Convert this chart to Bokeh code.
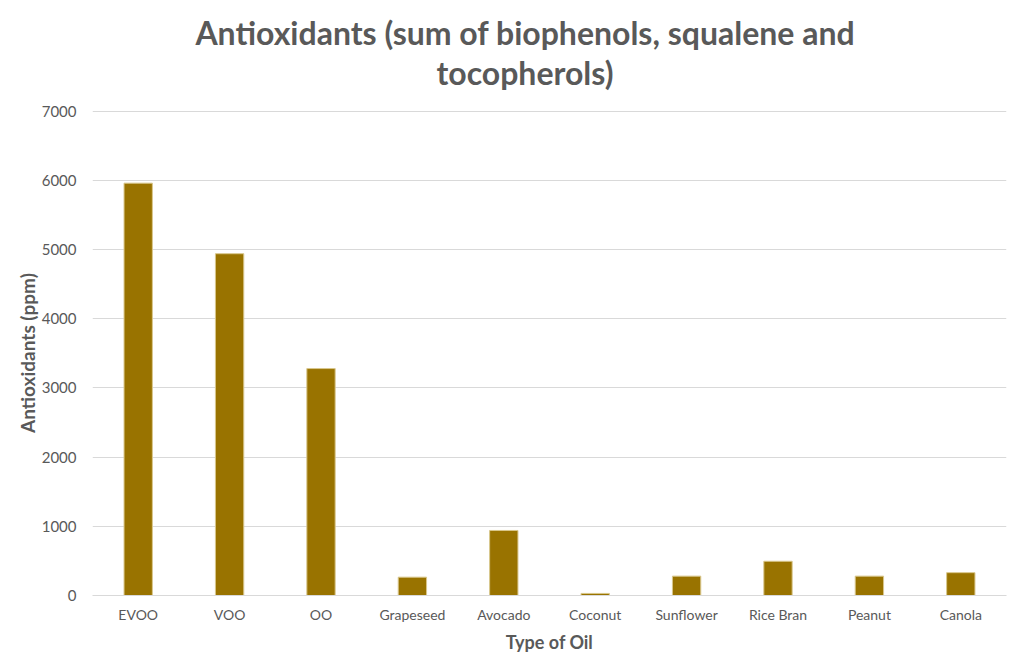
from bokeh.plotting import figure
from bokeh.models import Range1d, FixedTicker, Div
from bokeh.layouts import column
from bokeh.embed import file_html
from bokeh.resources import INLINE

oils = ["EVOO", "VOO", "OO", "Grapeseed", "Avocado", "Coconut", "Sunflower", "Rice Bran", "Peanut", "Canola"]
antioxidants = [5960, 4940, 3280, 265, 940, 30, 280, 495, 280, 330]
y_ticks = [0, 1000, 2000, 3000, 4000, 5000, 6000, 7000]
title_lines = ["Antioxidants (sum of biophenols, squalene and", "tocopherols)"]
x_title = "Type of Oil"
y_title = "Antioxidants (ppm)"

FONT = "Lato"
GREY = "#595959"
W = 1016

title_html = (
    '<div style="font-family:Lato,sans-serif;font-weight:bold;font-size:32px;'
    'color:#595959;line-height:40px;text-align:center;padding:13px 0 0 34px;'
    'box-sizing:border-box;width:%dpx;white-space:nowrap;">' % W
    + "<br>".join(title_lines) + "</div>"
)
title_div = Div(text=title_html, width=W, height=98, margin=(0, 0, 0, 0))

p = figure(x_range=oils, y_range=Range1d(0, 7010), width=W, height=563,
           output_backend="svg", toolbar_location=None,
           min_border_left=92, min_border_right=10, min_border_top=12, min_border_bottom=66)
p.title.visible = False
p.outline_line_color = None

p.vbar(x=oils, top=antioxidants, width=0.31, fill_color="#997300",
       line_color="#d9c78c", line_width=1)

p.yaxis.ticker = FixedTicker(ticks=y_ticks)
p.yaxis.axis_line_color = None
p.yaxis.major_tick_line_color = None
p.yaxis.minor_tick_line_color = None
p.yaxis.major_label_text_font = FONT
p.yaxis.major_label_text_font_size = "15px"
p.yaxis.major_label_text_color = GREY
p.yaxis.major_label_standoff = 10
p.yaxis.axis_label = y_title
p.yaxis.axis_label_text_font = FONT
p.yaxis.axis_label_text_font_size = "19px"
p.yaxis.axis_label_text_font_style = "bold"
p.yaxis.axis_label_text_color = GREY
p.yaxis.axis_label_standoff = 0

p.xaxis.axis_line_color = "#d9d9d9"
p.xaxis.major_tick_line_color = None
p.xaxis.minor_tick_line_color = None
p.xaxis.major_label_text_font = FONT
p.xaxis.major_label_text_font_size = "14px"
p.xaxis.major_label_text_color = GREY
p.xaxis.major_label_standoff = 4
p.xaxis.axis_label = x_title
p.xaxis.axis_label_text_font = FONT
p.xaxis.axis_label_text_font_size = "18px"
p.xaxis.axis_label_text_font_style = "bold"
p.xaxis.axis_label_text_color = GREY
p.xaxis.axis_label_standoff = 5

p.xgrid.grid_line_color = None
p.ygrid.grid_line_color = "#d9d9d9"
p.ygrid.grid_line_width = 1
p.x_range.range_padding = 0

layout = column(title_div, p, spacing=0)
open("out.html", "w").write(file_html(layout, INLINE))
